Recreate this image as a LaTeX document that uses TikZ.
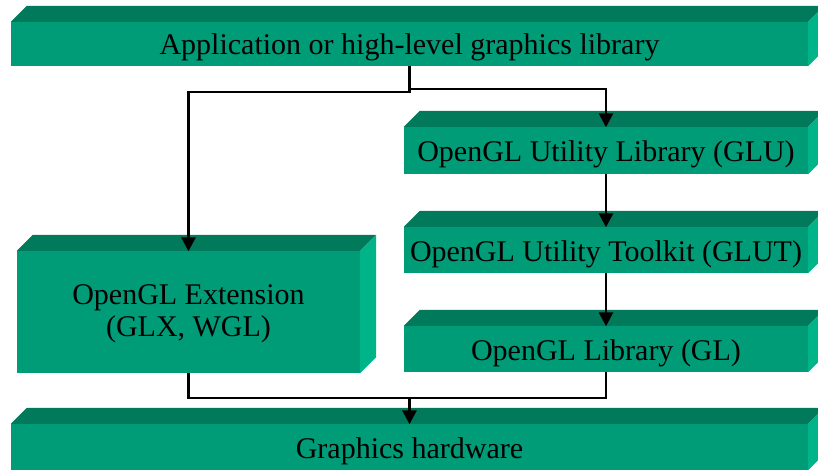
\documentclass[tikz,border=0pt]{standalone}
\usepackage{fontspec}
\setmainfont{Liberation Serif}
\usetikzlibrary{arrows.meta,calc}

\definecolor{slabface}{RGB}{0,155,119}
\definecolor{slabtop}{RGB}{0,122,90}
\definecolor{slabside}{RGB}{0,180,137}

\tikzset{
  slab/.style={fill=slabface, draw=none, inner sep=0pt, align=center,
    font=\fontsize{30}{32}\selectfont, text height=23pt, text depth=0pt},
  link/.style={line width=2.8pt, draw=black},
  linkarrow/.style={link, -{Triangle[width=14pt,length=14pt]}, shorten >=-0.5pt}
}

% top and right bevels of a slab face node
\newcommand{\bevel}[1]{%
  \fill[slabtop] (#1.north west) -- ++(16,-16) -- ($(#1.north east)+(16,-16)$) -- (#1.north east) -- cycle;
  \fill[slabside] (#1.north east) -- ++(16,-16) -- ($(#1.south east)+(16,-16)$) -- (#1.south east) -- cycle;
}

\begin{document}
\begin{tikzpicture}[x=1pt,y=-1pt]
  \useasboundingbox (0,0) rectangle (818,470);
  \clip (0,0) rectangle (818,470);

  \node[slab, minimum width=797pt, minimum height=44pt, text height=22pt] (app) at (409.5,44) {Application or high-level graphics library};
  \node[slab, minimum width=404pt, minimum height=47pt] (glu) at (606,150.5) {OpenGL Utility Library (GLU)};
  \node[slab, minimum width=404pt, minimum height=46pt] (glut) at (606,250) {OpenGL Utility Toolkit (GLUT)};
  \node[slab, minimum width=404pt, minimum height=46pt] (gl) at (606,349) {OpenGL Library (GL)};
  \node[slab, minimum width=343pt, minimum height=122pt, text height=48pt] (ext) at (188.5,312) {OpenGL Extension\\(GLX, WGL)};
  \node[slab, minimum width=797pt, minimum height=46pt, text height=22pt] (hw) at (409.5,447) {Graphics hardware};

  \foreach \n in {app,glu,glut,gl,ext,hw} {\bevel{\n}}

  % branch points
  \coordinate (splitL) at (409.5,92);
  \coordinate (splitR) at (409.5,89);
  \coordinate (merge) at (409.5,398);

  \draw[linkarrow] (app.south) -- (splitL) -| (ext.north);
  \draw[linkarrow] (splitR) -| (glu.north);
  \draw[linkarrow] (glu.south) -- (glut.north);
  \draw[linkarrow] (glut.south) -- (gl.north);
  \draw[link] (ext.south) |- (merge);
  \draw[link] (gl.south) |- (merge);
  \draw[linkarrow] (merge) -- (hw.north);
\end{tikzpicture}
\end{document}
